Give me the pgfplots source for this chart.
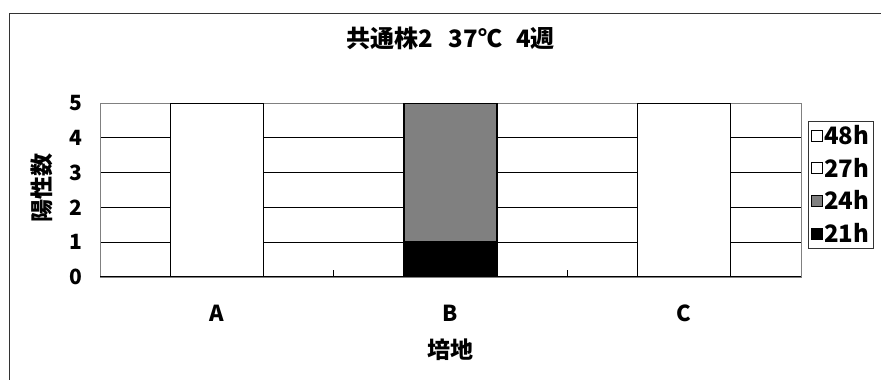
\documentclass[border=0pt]{standalone}
\usepackage{fontspec}
\setmainfont{Noto Sans CJK JP}
\usepackage{pgfplots}
\pgfplotsset{compat=1.18}

\definecolor{midgray}{gray}{0.5}

\begin{document}
\begin{tikzpicture}[x=1pt,y=1pt]
\path[use as bounding box] (0,0) rectangle (881,380);
\clip (0,0) rectangle (881,380);
% chart-area frame
\draw[black!80, line width=0.9pt] (9,-20) -- (9,367) -- (900,367);

\begin{axis}[
  at={(100pt,103pt)}, anchor=south west,
  scale only axis, width=701pt, height=174pt,
  ybar stacked, bar width=93pt,
  xmin=-0.5, xmax=2.5, ymin=0, ymax=5,
  xtick={0,1,2}, xticklabels={A,B,C},
  ytick={1,2,3,4},
  extra y ticks={0,5},
  extra y tick style={grid=none},
  extra x ticks={0.5,1.5},
  extra x tick labels={},
  extra x tick style={grid=none, tick align=inside, major tick length=7pt,
    tick style={black, line width=0.9pt}},
  xtick pos=bottom, ytick pos=left,
  major tick length=0pt,
  ymajorgrids, grid style={black, line width=0.8pt},
  axis line style={gray, line width=0.8pt},
  tick label style={font=\fontsize{21}{23}\selectfont\bfseries},
  /pgf/number format/assume math mode=true,
  yticklabel style={xshift=-14pt},
  xticklabel style={font=\fontsize{22}{24}\selectfont\bfseries, anchor=base, yshift=-45pt},
  title={共通株2\hspace{16pt}37℃\hspace{14pt}4週},
  title style={at={(axis description cs:0.5,1.285)}, anchor=base, yshift=0pt,
    font=\fontsize{24}{26}\selectfont\bfseries},
  xlabel={培地},
  xlabel style={at={(axis description cs:0.5,-0.471)}, anchor=base,
    font=\fontsize{23}{25}\selectfont\bfseries},
  ylabel={陽性数},
  ylabel style={at={(axis description cs:-0.083,0.51)}, anchor=center,
    rotate=0, font=\fontsize{23}{25}\selectfont\bfseries},
  reverse legend,
  legend style={at={(axis description cs:1.01,0.8966)}, anchor=north west,
    draw=black!80, line width=0.8pt, font=\fontsize{24}{26}\selectfont\bfseries,
    row sep=10pt, inner sep=3pt,
    nodes={inner sep=1pt},
    cells={anchor=west}},
  legend image code/.code={\draw[#1, line width=0.9pt] (1pt,-5.5pt) rectangle (12pt,5.5pt);},
]
% positives per medium, stacked by incubation time
\addplot+[fill=black, draw=black, line width=1.5pt] coordinates {(0,0) (1,1) (2,0)};
\addplot+[fill=midgray, draw=black, line width=1.5pt] coordinates {(0,0) (1,4) (2,0)};
\addplot+[fill=white, draw=black, line width=1.5pt] coordinates {(0,5) (1,0) (2,5)};
\addplot+[fill=white, draw=black, line width=1.5pt] coordinates {(0,0) (1,0) (2,0)};
\legend{21h,24h,27h,48h}
\draw[black, line width=1.2pt] (rel axis cs:0,0) -- (rel axis cs:1,0);
\end{axis}
\end{tikzpicture}
\end{document}
